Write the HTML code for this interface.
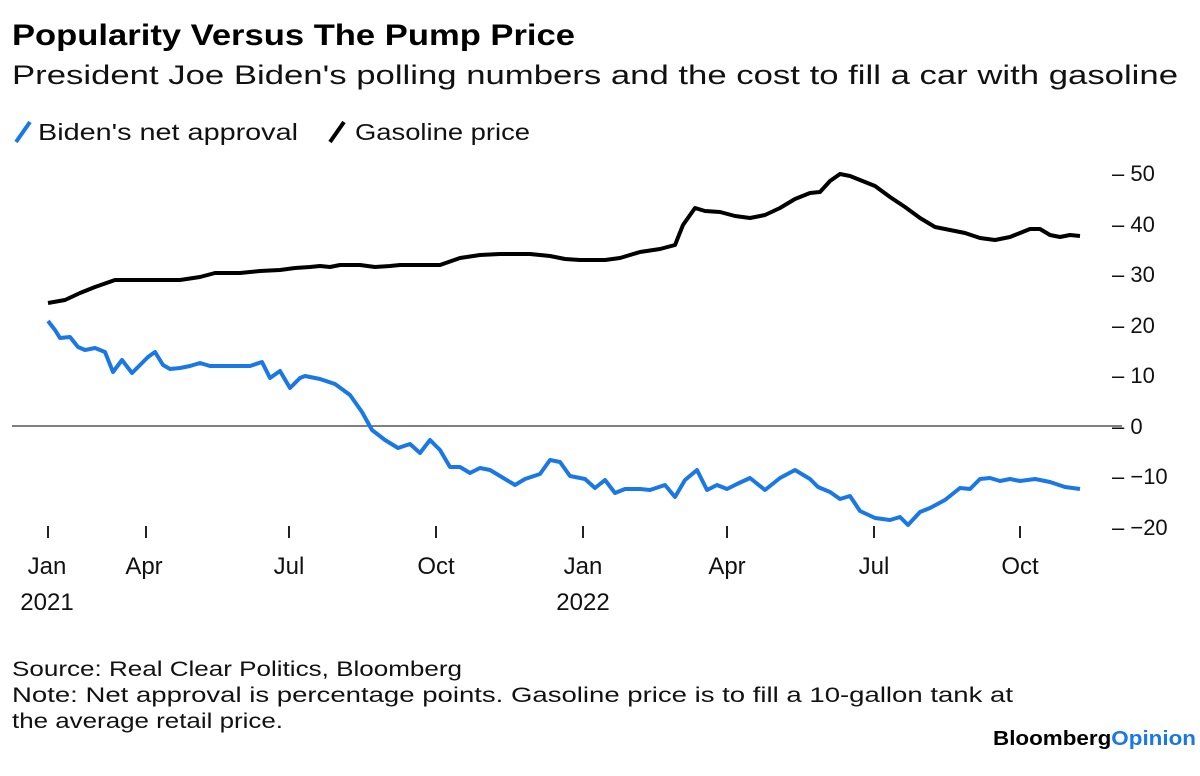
<!DOCTYPE html>
<html><head><meta charset="utf-8"><style>
body{margin:0;background:#fff;}
svg{display:block;font-family:"Liberation Sans",Arial,sans-serif;}
</style></head><body>
<svg width="1200" height="776" viewBox="0 0 1200 776">
<text x="12" y="45" font-size="30" font-weight="bold" fill="#000" textLength="563" lengthAdjust="spacingAndGlyphs">Popularity Versus The Pump Price</text>
<text x="12" y="84" font-size="27" fill="#111" textLength="1166" lengthAdjust="spacingAndGlyphs">President Joe Biden's polling numbers and the cost to fill a car with gasoline</text>
<line x1="16" y1="142" x2="30" y2="122" stroke="#1a78e6" stroke-width="4"/>
<text x="38" y="140" font-size="23" fill="#111" textLength="260" lengthAdjust="spacingAndGlyphs">Biden's net approval</text>
<line x1="330" y1="142" x2="344" y2="122" stroke="#000" stroke-width="4"/>
<text x="355" y="140" font-size="23" fill="#111" textLength="175" lengthAdjust="spacingAndGlyphs">Gasoline price</text>
<g font-size="22" fill="#111">
<text x="1112" y="181">– 50</text><text x="1112" y="232">– 40</text><text x="1112" y="282">– 30</text>
<text x="1112" y="333">– 20</text><text x="1112" y="383">– 10</text><text x="1112" y="434">– 0</text>
<text x="1112" y="484">– −10</text><text x="1112" y="535">– −20</text>
</g>
<line x1="12" y1="426" x2="1122" y2="426" stroke="#333" stroke-width="1.3"/>
<g stroke="#222" stroke-width="2">
<line x1="48" y1="526" x2="48" y2="538"/><line x1="146" y1="526" x2="146" y2="538"/>
<line x1="289" y1="526" x2="289" y2="538"/><line x1="436" y1="526" x2="436" y2="538"/>
<line x1="583" y1="526" x2="583" y2="538"/><line x1="727" y1="526" x2="727" y2="538"/>
<line x1="874" y1="526" x2="874" y2="538"/><line x1="1020" y1="526" x2="1020" y2="538"/>
</g>
<g font-size="24" fill="#111" text-anchor="middle">
<text x="47" y="574">Jan</text><text x="144" y="574">Apr</text><text x="289" y="574">Jul</text><text x="436" y="574">Oct</text>
<text x="583" y="574">Jan</text><text x="727" y="574">Apr</text><text x="874" y="574">Jul</text><text x="1020" y="574">Oct</text>
<text x="47" y="610">2021</text><text x="583" y="610">2022</text>
</g>
<polyline fill="none" stroke="#000" stroke-width="4" stroke-linejoin="round" points="48,303 65,300 80,293 95,287 115,280 130,280 150,280 180,280 200,277 215,273 240,273 260,271 280,270 295,268 310,267 320,266 330,267 340,265 360,265 375,267 390,266 400,265 440,265 460,258 480,255 500,254 530,254 550,256 565,259 580,260 605,260 620,258 640,252 660,249 675,245 683,225 695,208 705,211 720,212 735,216 750,218 765,215 780,208 795,199 810,193 820,192 830,181 840,174 850,176 860,180 875,186 890,197 905,207 920,218 935,227 945,229 965,233 980,238 995,240 1010,237 1020,233 1030,229 1040,229 1050,235 1060,237 1070,235 1080,236"/>
<polyline fill="none" stroke="#1a78e6" stroke-width="4" stroke-linejoin="round" points="48,321 55,330 60,338 70,337 78,347 85,350 95,348 105,352 113,372 122,360 132,373 140,365 148,357 155,352 163,365 170,369 180,368 190,366 200,363 210,366 230,366 250,366 262,362 270,378 280,371 290,388 300,378 305,376 320,379 335,384 350,395 362,412 372,430 385,440 398,448 410,444 420,453 430,440 440,450 450,467 460,467 470,473 480,468 490,470 500,476 515,485 525,479 540,474 550,460 560,462 570,476 585,479 595,488 605,480 615,493 625,489 640,489 650,490 665,485 675,497 685,480 697,470 707,490 717,485 727,489 737,484 750,478 765,490 780,478 795,470 810,479 818,487 830,492 840,499 850,496 860,511 875,518 890,520 900,517 908,525 920,512 930,508 945,500 960,488 970,489 980,479 990,478 1000,481 1010,479 1020,481 1035,479 1050,482 1065,487 1080,489"/>
<g font-size="21" fill="#111">
<text x="12" y="676" textLength="450" lengthAdjust="spacingAndGlyphs">Source: Real Clear Politics, Bloomberg</text>
<text x="12" y="702" textLength="1001" lengthAdjust="spacingAndGlyphs">Note: Net approval is percentage points. Gasoline price is to fill a 10-gallon tank at</text>
<text x="12" y="728" textLength="271" lengthAdjust="spacingAndGlyphs">the average retail price.</text>
</g>
<text x="993" y="745" font-size="20" font-weight="bold" fill="#000" textLength="203" lengthAdjust="spacingAndGlyphs">Bloomberg<tspan fill="#1a78e6">Opinion</tspan></text>
</svg>
</body></html>
